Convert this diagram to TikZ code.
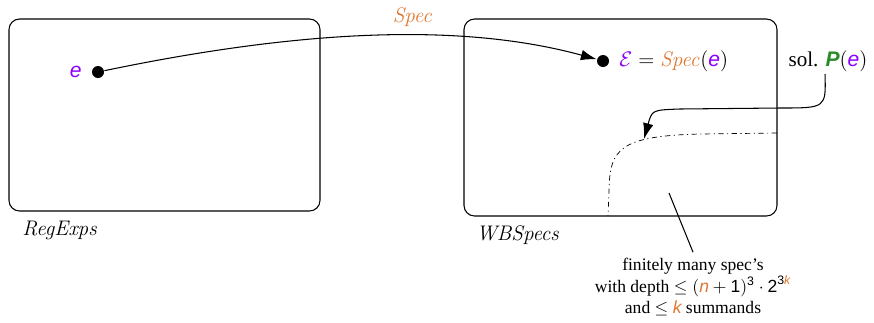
\documentclass[tikz,border=0pt]{standalone}
\usepackage{amsmath}
\usepackage[no-math]{fontspec}
\setmainfont{Liberation Serif}
\newfontfamily\helvfont{Liberation Sans}
\usetikzlibrary{arrows.meta}

\definecolor{varpurple}{RGB}{140,0,255}
\definecolor{specorange}{RGB}{222,120,50}
\definecolor{solgreen}{RGB}{40,140,40}

% sans letters for the variables
\newcommand{\sv}[1]{\text{\helvfont\itshape #1}}
\newcommand{\sn}[1]{\text{\helvfont #1}}
\newcommand{\ve}{\textcolor{varpurple}{\sv{e}}}
\newcommand{\specname}{\textcolor{specorange}{\mathit{Spec}}}

\begin{document}
\begin{tikzpicture}[x=0.02cm, y=-0.02cm, thick, line width=0.6pt]
    \tikzstyle{space}=[draw, rounded corners=6pt]
    \tikzstyle{dot}=[circle, fill=black, inner sep=0pt, minimum size=0.24cm]
    \tikzstyle{spacename}=[anchor=west, font=\large]
    \tikzstyle{map}=[-{Latex[length=9pt, width=6pt]}]

    \useasboundingbox (0,0) rectangle (874,322);

    % Regular expressions
    \draw[space] (9,19) rectangle (320,211);
    \node[spacename] (RegExps) at (16,230) {$\mathit{RegExps}$};
    \node[dot] (e) at (98,72) {};
    \node[anchor=east, font=\large] (eLabel) at (e.west) {$\ve$\,};

    % Well-bracketed specs
    \draw[space] (464,19) rectangle (777,216);
    \node[spacename] (WBSpecs) at (470,235) {$\mathit{WBSpecs}$};
    \node[dot] (E) at (603,61) {};
    \node[anchor=west, font=\large] (ELabel) at (E.east)
        {\,$\textcolor{varpurple}{\mathcal{E}} = \specname(\ve)$};

    % The Spec map
    \draw[map] (e) .. controls (300,30) and (460,22) .. (E);
    \node[font=\large] (SpecLabel) at (413,17) {$\specname$};

    % Solutions of P(e)
    \node[font=\large] (sol) at (828,61)
        {sol. $\textcolor{solgreen}{\text{\helvfont\bfseries\itshape P}}(\ve)$};
    \coordinate (solFoot) at (825,74);
    \coordinate (solTip) at (644,139);
    \draw[map] (solFoot) .. controls (826,108) .. (780,108) -- (680,109)
        .. controls (652,110) .. (solTip);

    % Frontier
    \coordinate (frontTop) at (777,133);
    \coordinate (frontBot) at (608,216);
    \draw[dash dot, thin] (frontTop) -- (700,134)
        .. controls (618,136) and (610,150) .. (609,190) -- (frontBot);

    % Finitely many specs
    \coordinate (finStart) at (669,193);
    \node[align=center] (fin) at (693,287)
        {finitely many spec's\\
         with depth $\leq (\textcolor{specorange}{\sv{n}}+\sn{1})^{\sn{3}}\cdot \sn{2}^{\sn{3}\textcolor{specorange}{\sv{k}}}$\\
         and $\leq$ \textcolor{specorange}{$\sv{k}$} summands};
    \draw (finStart) -- (fin.north);
\end{tikzpicture}
\end{document}
